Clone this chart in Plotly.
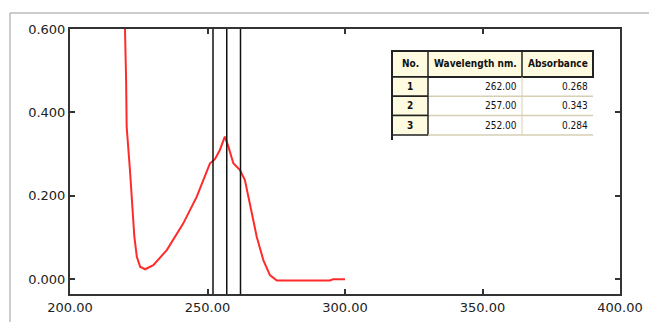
import plotly.graph_objects as go

# ---- data ----
wavelength = [219.0, 220.0, 220.4, 220.6, 221.8, 222.7, 223.4, 224.3, 225.5, 227.3,
              230.3, 235.2, 241.2, 246.1, 249.1, 250.9, 252.7, 254.5, 256.3, 257.6,
              259.4, 261.8, 263.6, 265.5, 267.9, 270.3, 272.7, 275.2, 294.5, 295.7, 300.0]
absorbance = [0.700, 0.598, 0.478, 0.366, 0.262, 0.182, 0.102, 0.054, 0.030, 0.024,
              0.034, 0.070, 0.134, 0.198, 0.250, 0.278, 0.288, 0.310, 0.342, 0.318,
              0.278, 0.262, 0.238, 0.174, 0.102, 0.046, 0.010, -0.003, -0.003, 0.000, 0.000]

peak_no = ["1", "2", "3"]
peak_nm = [262.00, 257.00, 252.00]
peak_abs = [0.268, 0.343, 0.284]
table_header = ["No.", "Wavelength nm.", "Absorbance"]

x_ticks = [200, 250, 300, 350, 400]
y_ticks = [0.0, 0.2, 0.4, 0.6]

W, H = 649, 322
L, R, T, B = 70, 620, 29, 294


def px(x):
    return (x - L) / (R - L)


def py(y):
    return (B - y) / (B - T)


fig = go.Figure()
fig.add_trace(go.Scatter(x=wavelength, y=absorbance, mode="lines",
                         line=dict(color="#ff2b2b", width=2), hoverinfo="skip",
                         showlegend=False))

shapes = []
for nm in peak_nm:
    shapes.append(dict(type="line", xref="x", yref="paper", x0=nm, x1=nm, y0=0, y1=1,
                       line=dict(color="#111111", width=1.5)))

# outer picture border (left and top)
shapes.append(dict(type="line", xref="paper", yref="paper", x0=px(10), x1=px(10),
                   y0=py(13), y1=py(330), line=dict(color="#999999", width=1)))
shapes.append(dict(type="line", xref="paper", yref="paper", x0=px(10), x1=px(660),
                   y0=py(13), y1=py(13), line=dict(color="#999999", width=1)))

# ---- table ----
tx0, tc1, tc2, tx1 = 392, 428, 522, 593
ty_head0, ty_head1 = 51, 77
row_h = 19.3
cream = "#fffbe0"
dark = "#222222"
light = "#d6cfb4"
tfam = "Liberation Sans Narrow, DejaVu Sans Condensed, Arial"

shapes.append(dict(type="rect", xref="paper", yref="paper", x0=px(tx0), x1=px(tx1),
                   y0=py(ty_head0), y1=py(ty_head1), fillcolor=cream,
                   line=dict(color=dark, width=2)))
for cx in (tc1, tc2):
    shapes.append(dict(type="line", xref="paper", yref="paper", x0=px(cx), x1=px(cx),
                       y0=py(ty_head0), y1=py(ty_head1), line=dict(color=dark, width=1.5)))

annotations = []
head_cx = [(tx0 + tc1) / 2, (tc1 + tc2) / 2, (tc2 + tx1) / 2]
for t, cx in zip(table_header, head_cx):
    annotations.append(dict(xref="paper", yref="paper", x=px(cx), y=py((ty_head0 + ty_head1) / 2),
                            text="<b>" + t + "</b>", showarrow=False,
                            font=dict(family=tfam, size=10, color="#111111"),
                            xanchor="center", yanchor="middle"))

for i, (n, nm, a) in enumerate(zip(peak_no, peak_nm, peak_abs)):
    r0 = ty_head1 + i * row_h
    r1 = r0 + row_h
    shapes.append(dict(type="rect", xref="paper", yref="paper", x0=px(tx0), x1=px(tc1),
                       y0=py(r0), y1=py(r1), fillcolor=cream,
                       line=dict(color=dark, width=1.5)))
    shapes.append(dict(type="line", xref="paper", yref="paper", x0=px(tc1), x1=px(tx1),
                       y0=py(r1), y1=py(r1), line=dict(color=light, width=1.5)))
    shapes.append(dict(type="line", xref="paper", yref="paper", x0=px(tc2), x1=px(tc2),
                       y0=py(r0), y1=py(r1), line=dict(color=light, width=1)))
    cy = py((r0 + r1) / 2)
    fnt = dict(family=tfam, size=10, color="#111111")
    annotations.append(dict(xref="paper", yref="paper", x=px((tx0 + tc1) / 2), y=cy,
                            text="<b>" + n + "</b>", showarrow=False, font=fnt,
                            xanchor="center", yanchor="middle"))
    annotations.append(dict(xref="paper", yref="paper", x=px(tc2 - 3), y=cy,
                            text=f"{nm:.2f}", showarrow=False, font=fnt,
                            xanchor="right", yanchor="middle"))
    annotations.append(dict(xref="paper", yref="paper", x=px(tx1 - 3), y=cy,
                            text=f"{a:.3f}", showarrow=False, font=fnt,
                            xanchor="right", yanchor="middle"))
shapes.append(dict(type="line", xref="paper", yref="paper", x0=px(tx0), x1=px(tx0),
                   y0=py(ty_head0), y1=py(140), line=dict(color=dark, width=2)))

tick_font = dict(family="DejaVu Sans", size=13, color="#222222")
axis_common = dict(showgrid=False, zeroline=False, showline=True, linecolor="#333333",
                   linewidth=2, mirror="ticks", ticks="inside", ticklen=5, tickwidth=1.5,
                   tickcolor="#333333", tickfont=tick_font, automargin=False)

fig.update_layout(
    width=W, height=H,
    margin=dict(l=L, r=W - R, t=T, b=H - B),
    paper_bgcolor="white", plot_bgcolor="white",
    shapes=shapes, annotations=annotations,
    xaxis=dict(range=[200, 400], tickvals=x_ticks,
               ticktext=[f"{v:.2f}" for v in x_ticks], **axis_common),
    yaxis=dict(range=[-0.0353, 0.6], tickvals=y_ticks,
               ticktext=[f"{v:.3f}" for v in y_ticks], **axis_common),
)

fig.write_html("out.html", config={"displayModeBar": False},
               post_script="document.body.style.margin='0px';"
                           "document.body.style.overflow='hidden';")
